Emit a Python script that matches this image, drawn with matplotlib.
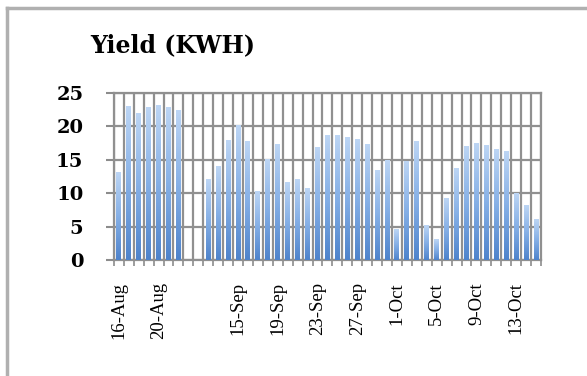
import numpy as np
import matplotlib
matplotlib.use("Agg")
import matplotlib.pyplot as plt
from matplotlib.colors import LinearSegmentedColormap
from matplotlib.lines import Line2D

plt.rcParams["image.composite_image"] = False

# daily yield, two empty slots between the August and September runs
aug_days = ["16-Aug", "17-Aug", "18-Aug", "19-Aug", "20-Aug", "21-Aug", "22-Aug"]
aug_yield = [13.1, 23.0, 22.0, 22.9, 23.2, 22.8, 22.4]
gap_days = ["", ""]
sep_oct_days = ["%d-Sep" % d for d in range(12, 31)] + ["%d-Oct" % d for d in range(1, 16)]
sep_oct_yield = [12.1, 14.0, 17.9, 20.2, 17.8, 10.2, 15.0, 17.3, 11.6, 12.0, 10.7,
                 16.8, 18.7, 18.7, 18.4, 18.1, 17.3, 13.4, 14.9, 4.6, 14.7, 17.8,
                 5.1, 3.1, 9.2, 13.7, 17.0, 17.5, 17.1, 16.5, 16.3, 10.0, 8.1, 6.1]

categories = aug_days + gap_days + sep_oct_days
values = aug_yield + [np.nan, np.nan] + sep_oct_yield
y_ticks = [0, 5, 10, 15, 20, 25]

fig = plt.figure(figsize=(5.87, 3.76), dpi=100)
ax = fig.add_axes([0.194, 0.3085, 0.7276, 0.4442])

x = np.arange(len(categories))
bars = ax.bar(x, values, width=0.5, color="none", zorder=3)

# gradient fill per bar (light top, darker bottom)
cmap = LinearSegmentedColormap.from_list("bl", ["#4f84cc", "#86b0e6", "#bcd5f4"])
grad = np.linspace(0, 1, 64).reshape(-1, 1)
for b in bars:
    h = b.get_height()
    if np.isnan(h):
        continue
    ax.imshow(grad, extent=[b.get_x(), b.get_x() + b.get_width(), 0, h],
              origin="lower", aspect="auto", cmap=cmap, zorder=3,
              interpolation="bilinear")

ax.set_xlim(-0.5, len(categories) - 0.5)
ax.set_ylim(0, 25)
ax.set_aspect("auto")

ax.set_yticks(y_ticks)
ax.set_yticklabels([str(t) for t in y_ticks], fontfamily="DejaVu Serif",
                   fontweight="bold", fontsize=14)
ax.tick_params(axis="y", length=6, width=1.5, color="#8c8c8c", pad=16)

ax.set_xticks(x[::4])
ax.set_xticklabels(categories[::4], rotation=90, fontfamily="Liberation Serif",
                   fontsize=13.5)
ax.set_xticks(np.arange(-0.5, len(categories)), minor=True)
ax.tick_params(axis="x", which="major", length=0, pad=16)
ax.tick_params(axis="x", which="minor", length=4, width=1.2, color="#8c8c8c")

ax.grid(axis="y", color="#909090", linewidth=1.6, zorder=0)
ax.grid(axis="x", which="minor", color="#909090", linewidth=1.6, zorder=0)
ax.set_axisbelow(True)
for s in ax.spines.values():
    s.set_color("#909090")
    s.set_linewidth(1.6)

fig.text(0.153, 0.861, "Yield (KWH)", fontfamily="DejaVu Serif",
         fontweight="bold", fontsize=17, va="baseline")

# outer frame (left and top edges)
fig.add_artist(Line2D([0.012, 0.012], [0.0, 0.979], color="#b0b0b0", linewidth=2.5,
                      transform=fig.transFigure))
fig.add_artist(Line2D([0.012, 1.0], [0.979, 0.979], color="#b0b0b0", linewidth=2.5,
                      transform=fig.transFigure))

fig.savefig("out.png", dpi=100)
